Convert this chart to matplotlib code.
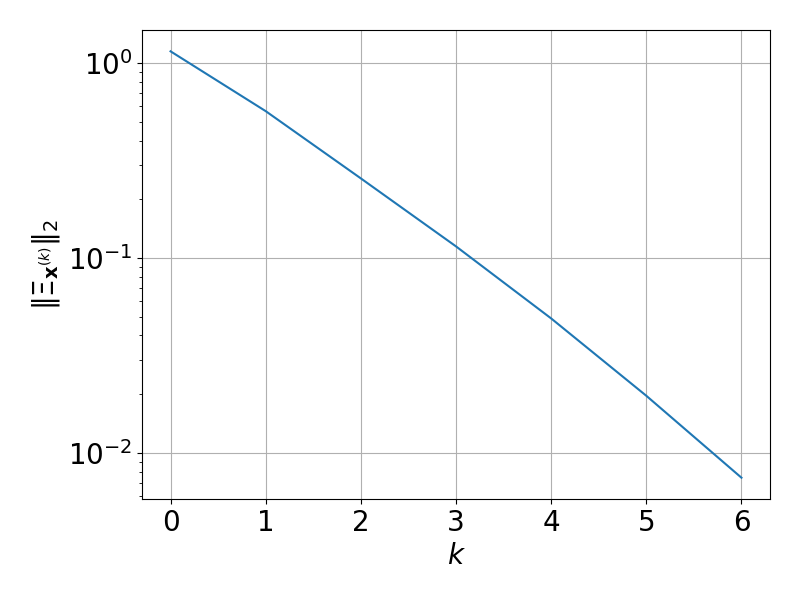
import matplotlib
matplotlib.use("Agg")
import matplotlib.pyplot as plt

k = [0, 1, 2, 3, 4, 5, 6]
norms = [1.15, 0.567, 0.256, 0.1146, 0.0489, 0.0196, 0.00744]

fig, ax = plt.subplots(figsize=(8, 6), dpi=100)
fig.subplots_adjust(left=0.1775, right=0.9625, top=0.95, bottom=0.1683)
ax.semilogy(k, norms, color="#1f77b4")
ax.grid(True)
ax.set_xlabel(r"$k$", fontsize=20)
ax.set_ylabel(r"$\|\Xi_{\mathbf{x}^{(k)}}\|_2$", fontsize=20)
ax.tick_params(labelsize=20)
ax.set_xticks(k)
fig.savefig("out.png")
